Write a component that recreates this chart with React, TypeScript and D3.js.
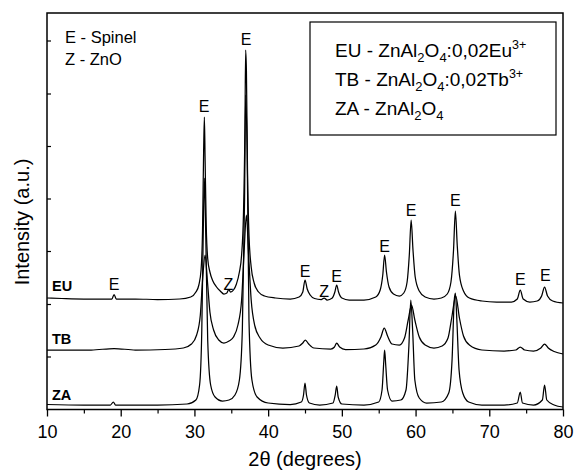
import { useEffect, useRef } from 'react';
import * as d3 from 'd3';

// 2θ positions and intensities (a.u., offset removed)
const euTheta = [10, 12, 15, 18, 18.8, 19.1, 19.4, 22, 25, 28, 29.5, 30.2, 30.6, 30.9, 31.1, 31.25, 31.35, 31.45, 31.6, 31.8, 32.1, 32.5, 33, 33.5, 34, 34.4, 34.65, 34.9, 35.3, 35.7, 36.1, 36.4, 36.65, 36.85, 36.95, 37.05, 37.2, 37.4, 37.7, 38.1, 38.7, 39.5, 41, 43, 44.2, 44.7, 45, 45.3, 45.7, 46.3, 47.2, 47.6, 48, 48.7, 49.05, 49.3, 49.55, 50, 51, 53, 54.6, 55.2, 55.55, 55.8, 56.05, 56.4, 57, 57.8, 58.4, 58.85, 59.15, 59.4, 59.65, 59.95, 60.5, 61.3, 62.5, 63.5, 64.3, 64.8, 65.15, 65.4, 65.65, 65.95, 66.5, 67.3, 69, 71, 73, 73.8, 74.2, 74.6, 75.5, 76.5, 77.1, 77.5, 77.9, 78.6, 80];
const euValues = [3.5, 3, 2.5, 2.5, 2.5, 7, 2.5, 2.5, 2, 2.5, 4.5, 9.5, 16.5, 31.5, 71, 151, 184.5, 141, 76, 43, 29.5, 20.5, 14.5, 10.5, 7.5, 8.5, 12, 9.5, 11.5, 17.5, 29.5, 46.5, 86.5, 171.5, 251.5, 231.5, 131.5, 66.5, 34.5, 18.5, 9.5, 5.5, 3.5, 2.5, 4.5, 9.5, 21.5, 12.5, 6.5, 3, 2, 3.5, 1.5, 3.5, 9.5, 16.5, 9.5, 3.5, 1.5, 1.5, 4.5, 11.5, 26.5, 46.5, 29.5, 14.5, 7.5, 5.5, 8.5, 19.5, 46.5, 81.5, 51.5, 24.5, 10.5, 4.5, 2.5, 3.5, 7.5, 19.5, 51.5, 90.5, 56.5, 26.5, 10.5, 3.5, 0.5, -0.5, -0.5, 2.5, 11.5, 2.5, -0.5, 0.5, 5.5, 14.5, 5.5, 0.5, -1.5];

const tbTheta = [10, 13, 16, 19.1, 22, 26, 28.5, 29.6, 30.3, 30.8, 31.15, 31.45, 31.75, 32.1, 32.6, 33.3, 34, 34.7, 35.3, 35.9, 36.4, 36.75, 37.05, 37.35, 37.7, 38.2, 38.9, 40, 42, 44.2, 44.7, 45.05, 45.5, 46.2, 48.5, 49, 49.3, 49.7, 50.5, 53, 54.6, 55.3, 55.75, 56.2, 56.8, 57.8, 58.5, 59, 59.45, 59.9, 60.5, 61.3, 62.5, 63.6, 64.4, 64.9, 65.45, 65.95, 66.5, 67.3, 69, 72, 73.6, 74.2, 74.8, 76, 77, 77.5, 78, 78.8, 80];
const tbValues = [1.5, 1.5, 1.5, 3, 1.5, 2, 3.5, 7.5, 16.5, 36.5, 76.5, 96.5, 71.5, 39.5, 21.5, 11.5, 8.5, 10.5, 14.5, 26.5, 51.5, 101.5, 136.5, 96.5, 51.5, 25.5, 13.5, 6.5, 3.5, 5.5, 8.5, 11.5, 7.5, 3.5, 2.5, 4.5, 8.5, 4.5, 2, 2.5, 6.5, 14.5, 23.5, 15.5, 7.5, 6.5, 13.5, 31.5, 46.5, 31.5, 14.5, 6.5, 3.5, 5.5, 13.5, 33.5, 55.5, 33.5, 15.5, 6.5, 1.5, 0.5, 1.5, 4.5, 1.5, 0.5, 3.5, 7.5, 3.5, 0, -2.5];

const zaTheta = [10, 15, 18.6, 19, 19.3, 25, 29, 30.2, 30.7, 31, 31.2, 31.35, 31.55, 31.8, 32.2, 32.8, 33.8, 34.7, 35.5, 36.1, 36.5, 36.8, 36.95, 37.15, 37.4, 37.8, 38.5, 40, 43, 44.5, 44.8, 45, 45.2, 45.6, 47, 48.8, 49.1, 49.3, 49.5, 50, 53, 55, 55.45, 55.7, 55.8, 55.95, 56.2, 56.8, 58, 58.7, 59.1, 59.35, 59.6, 59.9, 60.5, 61.5, 63.5, 64.5, 64.95, 65.25, 65.4, 65.6, 65.9, 66.4, 67.2, 69, 72, 73.8, 74.2, 74.5, 76, 77.2, 77.5, 77.8, 78.8, 80];
const zaValues = [1, 0.5, 0.5, 3.5, 0.5, 0.5, 1.5, 5.5, 20.5, 75.5, 175.5, 227.5, 165.5, 65.5, 20.5, 8.5, 4.5, 5.5, 10.5, 25.5, 75.5, 205.5, 310.5, 255.5, 85.5, 25.5, 8.5, 2.5, 1, 3.5, 10.5, 22.5, 10.5, 2.5, 0.5, 2.5, 10.5, 19.5, 8.5, 1.5, 0.5, 3.5, 15.5, 45.5, 55.5, 40.5, 15.5, 4.5, 5.5, 15.5, 60.5, 105.5, 75.5, 25.5, 7.5, 2.5, 3.5, 12.5, 45.5, 105.5, 112.5, 85.5, 35.5, 12.5, 3.5, 0.5, 0.5, 2.5, 13.5, 2.5, 0.5, 5.5, 20.5, 5.5, 0.5, -1.5];

const seriesNames = ['EU', 'TB', 'ZA'];
const seriesOffsets = [108, 58, 4];

// peak markers above the EU pattern: 2θ, level of the label baseline, phase
const markerTheta = [19.1, 31.3, 34.6, 37, 45, 47.6, 49.3, 55.8, 59.4, 65.4, 74.2, 77.6];
const markerLevel = [119.5, 297.5, 119.5, 364.5, 132.5, 112.5, 127.5, 157.5, 193.5, 203.5, 124.5, 128.5];
const markerPhase = ['E', 'E', 'Z', 'E', 'E', 'Z', 'E', 'E', 'E', 'E', 'E', 'E'];

const xTicks = [10, 20, 30, 40, 50, 60, 70, 80];
const xMinorTicks = [15, 25, 35, 45, 55, 65, 75];
const yTicks = [53, 105.5, 158.5, 211, 263.5, 316, 369];

const FONT = "'Liberation Sans', Arial, Helvetica, sans-serif";

export default function App() {
  const ref = useRef(null);

  useEffect(() => {
    const width = 576;
    const height = 472;
    const margin = { top: 13, right: 13, bottom: 62.5, left: 47 };
    const innerWidth = width - margin.left - margin.right;
    const innerHeight = height - margin.top - margin.bottom;

    const svg = d3.select(ref.current);
    svg.selectAll('*').remove();
    svg.attr('viewBox', `0 0 ${width} ${height}`).attr('width', width).attr('height', height);
    const root = svg.append('g').attr('transform', `translate(${margin.left},${margin.top})`);

    const x = d3.scaleLinear().domain([10, 80]).range([0, innerWidth]);
    const y = d3.scaleLinear().domain([0, innerHeight]).range([innerHeight, 0]);

    const series = [
      { theta: euTheta, values: euValues },
      { theta: tbTheta, values: tbValues },
      { theta: zaTheta, values: zaValues },
    ];
    const labelGap = [11, 8, 6];

    root
      .append('g')
      .attr('transform', `translate(0,${innerHeight})`)
      .call(d3.axisBottom(x).tickValues(xTicks).tickSize(7).tickFormat(d3.format('d')))
      .call((axis) => axis.selectAll('.domain').remove())
      .call((axis) => axis.selectAll('line').attr('stroke', '#000').attr('stroke-width', 1.3))
      .call((axis) =>
        axis
          .selectAll('text')
          .attr('font-family', FONT)
          .attr('font-size', 18)
          .attr('fill', '#000')
          .attr('dy', '1.05em'),
      );

    root
      .append('g')
      .attr('transform', `translate(0,${innerHeight})`)
      .call(d3.axisBottom(x).tickValues(xMinorTicks).tickSize(4).tickFormat(() => ''))
      .call((axis) => axis.selectAll('.domain').remove())
      .call((axis) => axis.selectAll('line').attr('stroke', '#000').attr('stroke-width', 1.2));

    root
      .append('g')
      .call(d3.axisRight(y).tickValues(yTicks).tickSize(4).tickFormat(() => ''))
      .call((axis) => axis.selectAll('.domain').remove())
      .call((axis) => axis.selectAll('line').attr('stroke', '#000').attr('stroke-width', 1.2));

    const line = d3.line().curve(d3.curveMonotoneX);

    series.forEach((s, i) => {
      const pts = s.theta.map((t, j) => [x(t), y(s.values[j] + seriesOffsets[i])]);
      root
        .append('path')
        .attr('d', line(pts))
        .attr('fill', 'none')
        .attr('stroke', '#000')
        .attr('stroke-width', 1.25)
        .attr('stroke-linejoin', 'round');

      root
        .append('text')
        .attr('x', 5)
        .attr('y', y(seriesOffsets[i]) - labelGap[i])
        .attr('font-family', FONT)
        .attr('font-size', 14.5)
        .attr('font-weight', 'bold')
        .text(seriesNames[i]);
    });

    root
      .selectAll('.marker')
      .data(markerTheta)
      .join('text')
      .attr('class', 'marker')
      .attr('x', (t) => x(t))
      .attr('y', (t, i) => y(markerLevel[i]))
      .attr('text-anchor', 'middle')
      .attr('font-family', FONT)
      .attr('font-size', 16)
      .text((t, i) => markerPhase[i]);

    // frame
    root
      .append('rect')
      .attr('width', innerWidth)
      .attr('height', innerHeight)
      .attr('fill', 'none')
      .attr('stroke', '#000')
      .attr('stroke-width', 1.5);

    // phase key
    const key = root.append('g').attr('font-family', FONT).attr('font-size', 16.5);
    key.append('text').attr('x', 18).attr('y', 30).text('E - Spinel');
    key.append('text').attr('x', 18).attr('y', 52).text('Z - ZnO');

    // sample legend
    const legend = root.append('g').attr('transform', 'translate(263,9)');
    legend
      .append('rect')
      .attr('width', 246)
      .attr('height', 113)
      .attr('fill', '#fff')
      .attr('stroke', '#000')
      .attr('stroke-width', 1.2);

    const legendRows = [
      { code: 'EU', dopant: ':0,02Eu', sup: '3+' },
      { code: 'TB', dopant: ':0,02Tb', sup: '3+' },
      { code: 'ZA', dopant: '', sup: '' },
    ];
    legendRows.forEach((row, i) => {
      const t = legend
        .append('text')
        .attr('x', 25)
        .attr('y', 35 + i * 29)
        .attr('font-family', FONT)
        .attr('font-size', 19);
      t.append('tspan').text(`${row.code} - ZnAl`);
      t.append('tspan').attr('dy', 5).attr('font-size', 13).text('2');
      t.append('tspan').attr('dy', -5).text('O');
      t.append('tspan').attr('dy', 5).attr('font-size', 13).text('4');
      if (row.dopant) {
        t.append('tspan').attr('dy', -5).text(row.dopant);
        t.append('tspan').attr('dy', -8).attr('font-size', 12.5).text(row.sup);
      }
    });

    svg
      .append('text')
      .attr('transform', `translate(29,${margin.top + 209}) rotate(-90)`)
      .attr('text-anchor', 'middle')
      .attr('font-family', FONT)
      .attr('font-size', 20)
      .text('Intensity (a.u.)');

    svg
      .append('text')
      .attr('x', margin.left + innerWidth / 2)
      .attr('y', 466)
      .attr('text-anchor', 'middle')
      .attr('font-family', FONT)
      .attr('font-size', 20)
      .text('2θ (degrees)');
  }, []);

  return (
    <div>
      <style>{'body{margin:0;background:#fff}'}</style>
      <svg ref={ref} role="img" aria-label="XRD patterns" />
    </div>
  );
}
